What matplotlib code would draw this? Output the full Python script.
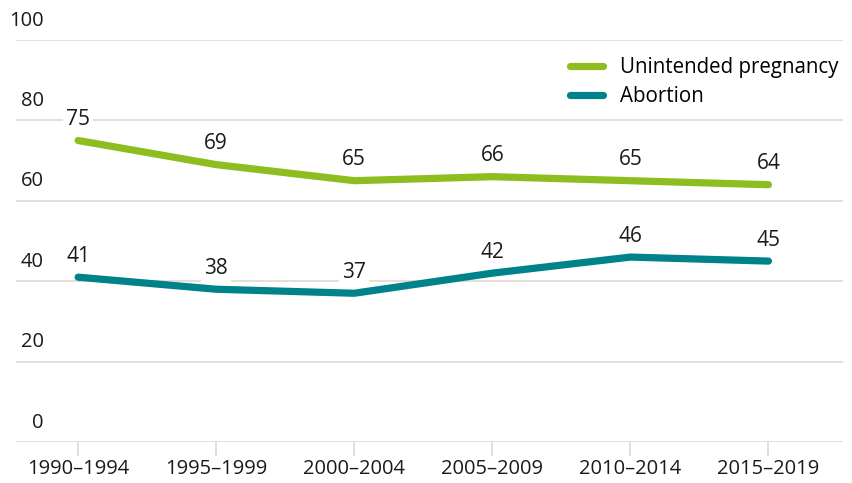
import matplotlib.pyplot as plt
import numpy as np

# Data
periods = ['1990–1994', '1995–1999', '2000–2004', '2005–2009', '2010–2014', '2015–2019']
unintended = [75, 69, 65, 66, 65, 64]
abortion = [41, 38, 37, 42, 46, 45]
y_ticks = [0, 20, 40, 60, 80, 100]

green = '#8dbd1e'
teal = '#00828a'
grid_col = '#ddd5cc'

plt.rcParams['font.family'] = ['Open Sans', 'DejaVu Sans']

fig = plt.figure(figsize=(8.53, 4.83), dpi=100)
ax = fig.add_axes([16 / 853, 41 / 483, 827 / 853, 402 / 483])

x = np.arange(len(periods))
ax.plot(x, unintended, color=green, lw=5.2, solid_capstyle='round',
        solid_joinstyle='round', label='Unintended pregnancy', zorder=3)
ax.plot(x, abortion, color=teal, lw=5.2, solid_capstyle='round',
        solid_joinstyle='round', label='Abortion', zorder=3)

# value labels above each point, with white box so gridlines break
for xs, vals in [(x, unintended), (x, abortion)]:
    for xi, v in zip(xs, vals):
        ax.annotate(str(v), (xi, v), xytext=(0, 15), textcoords='offset points',
                    ha='center', va='center', fontsize=15, color='#1a1a1a',
                    bbox=dict(boxstyle='square,pad=0.15', fc='white', ec='none'),
                    zorder=4)

ax.set_xlim(-0.45, 5.54)
ax.set_ylim(0, 100)

# gridlines
for yv in y_ticks:
    ax.axhline(yv, color=grid_col, lw=1.1, zorder=1)
    ax.annotate(str(yv), (0, yv), xycoords=('axes fraction', 'data'),
                xytext=(20, 14), textcoords='offset points', ha='right',
                va='center', fontsize=14.5, color='#1a1a1a')

ax.set_yticks([])
ax.set_xticks(x)
ax.set_xticklabels(periods, fontsize=14.5, color='#1a1a1a')
ax.tick_params(axis='x', length=10, width=1.1, color=grid_col, pad=2)
for s in ax.spines.values():
    s.set_visible(False)

fig.legend(loc='upper left', bbox_to_anchor=(570 / 853, 1 - 57 / 483),
           frameon=False, fontsize=14.8, handlelength=1.6, handletextpad=0.85,
           labelspacing=0.38, borderpad=0, borderaxespad=0)

plt.savefig('out.png', dpi=100)
